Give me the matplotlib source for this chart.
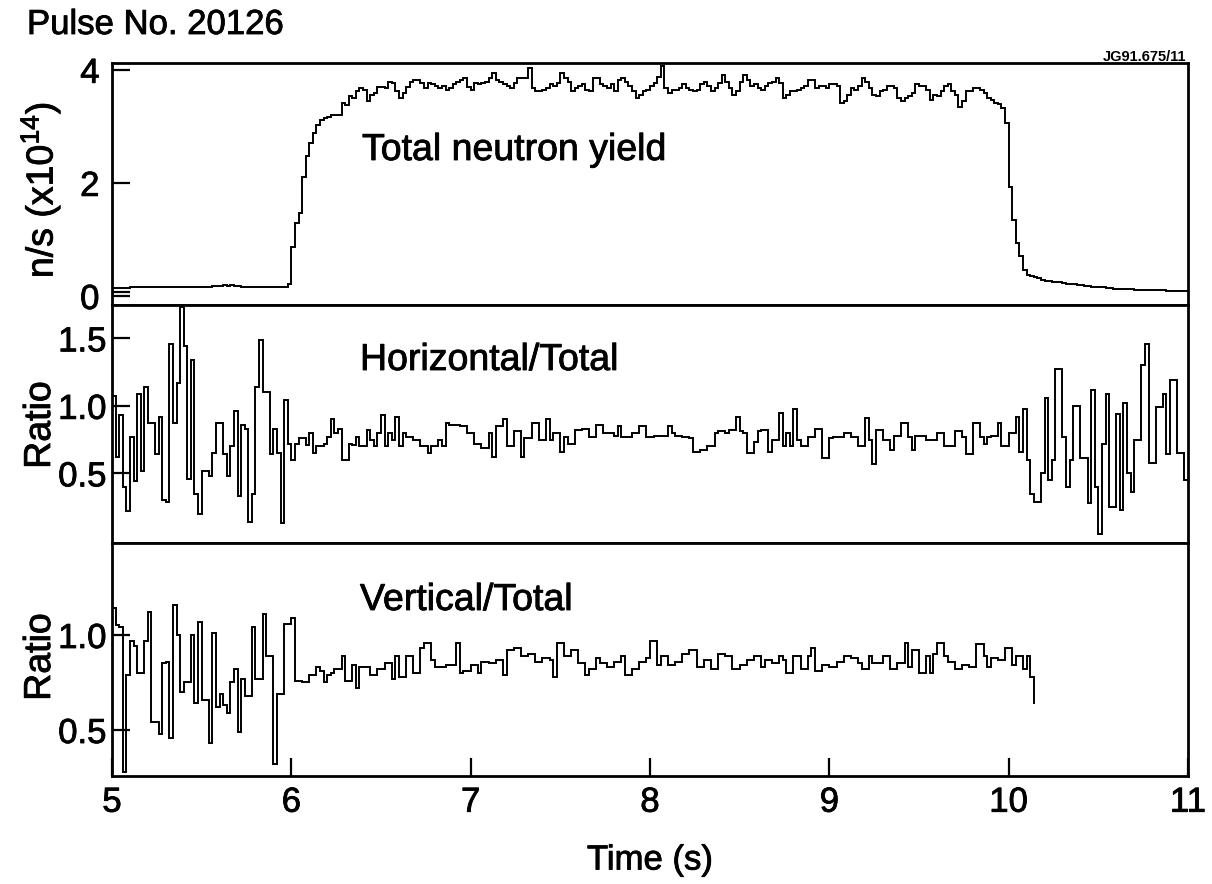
import numpy as np
import matplotlib
matplotlib.use("Agg")
import matplotlib.pyplot as plt
import matplotlib.patheffects as pe

plt.rcParams['font.family'] = ['Liberation Sans', 'DejaVu Sans']
plt.rcParams['mathtext.fontset'] = 'custom'
plt.rcParams['mathtext.rm'] = 'Liberation Sans'
plt.rcParams['mathtext.default'] = 'regular'

# ---------------- data (sampled every 0.02 s starting at t = 5.00 s) ----------------
t0 = 5.0
dt = 0.02

total_yield = [
    # 5.00 - 5.98
    0.14, 0.14, 0.14, 0.14, 0.14, 0.15, 0.15, 0.15, 0.15, 0.15,
    0.15, 0.15, 0.15, 0.15, 0.15, 0.15, 0.15, 0.15, 0.15, 0.15,
    0.15, 0.15, 0.15, 0.15, 0.16, 0.16, 0.16, 0.16, 0.17, 0.17,
    0.18, 0.19, 0.17, 0.19, 0.18, 0.17,
    0.16, 0.16, 0.16, 0.15, 0.15, 0.15, 0.15, 0.15, 0.15, 0.15, 0.15, 0.15, 0.15,
    0.22,
    # 6.00 - 6.14
    0.87, 1.29, 1.47, 2.10, 2.47, 2.71, 2.88, 3.03,
    # 6.16 - 8.48
    3.11, 3.15, 3.17, 3.20, 3.20, 3.20, 3.41, 3.38, 3.53, 3.50,
    3.62, 3.68, 3.65, 3.44, 3.56, 3.59, 3.70, 3.70, 3.68, 3.79,
    3.77, 3.62, 3.50, 3.59, 3.70, 3.79, 3.82, 3.82, 3.77, 3.68,
    3.77, 3.74, 3.71, 3.68, 3.71, 3.65, 3.68, 3.74, 3.79, 3.82,
    3.85, 3.70, 3.65, 3.77, 3.74, 3.77, 3.79, 3.85, 3.94, 3.82,
    3.79, 3.74, 3.71, 3.68, 3.77, 3.85, 3.85, 3.85, 4.03, 3.68,
    3.62, 3.62, 3.65, 3.68, 3.74, 3.71, 3.77, 3.94, 3.85, 3.79,
    3.62, 3.68, 3.71, 3.74, 3.65, 3.62, 3.85, 3.85, 3.74, 3.71,
    3.68, 3.74, 3.62, 3.82, 3.85, 3.79, 3.71, 3.62, 3.50, 3.56,
    3.62, 3.65, 3.71, 3.77, 3.88, 4.06, 3.68, 3.59, 3.65, 3.65,
    3.68, 3.74, 3.68, 3.65, 3.62, 3.65, 3.74, 3.79, 3.71, 3.62,
    3.68, 3.77, 3.91, 3.79, 3.68, 3.56, 3.62,
    # 8.50 - 9.98
    3.79, 3.91, 3.82, 3.71, 3.74, 3.68, 3.65, 3.71, 3.77, 3.79,
    3.85, 3.77, 3.50, 3.56, 3.62, 3.62, 3.65, 3.68, 3.71, 3.82,
    3.82, 3.68, 3.71, 3.71, 3.68, 3.74, 3.74, 3.71, 3.41, 3.44,
    3.56, 3.68, 3.65, 3.71, 3.85, 3.79, 3.68, 3.56, 3.53, 3.62,
    3.65, 3.71, 3.71, 3.68, 3.50, 3.44, 3.50, 3.53, 3.59, 3.74,
    3.71, 3.71, 3.65, 3.47, 3.56, 3.53, 3.62, 3.71, 3.74, 3.62,
    3.56, 3.35, 3.44, 3.62, 3.62, 3.68, 3.68, 3.65, 3.59, 3.50,
    3.47, 3.42, 3.39, 3.33, 3.06,
    # 10.00 - 10.98
    1.93, 1.35, 0.94, 0.70, 0.46, 0.37, 0.35, 0.33, 0.31, 0.29,
    0.27, 0.26, 0.25, 0.25, 0.24, 0.23, 0.22, 0.22, 0.21, 0.20,
    0.19, 0.18, 0.17, 0.16, 0.16, 0.15, 0.15, 0.14, 0.14, 0.13,
    0.13, 0.13, 0.12, 0.12, 0.12, 0.11, 0.11, 0.11, 0.11, 0.10,
    0.10, 0.10, 0.10, 0.10, 0.09, 0.09, 0.09, 0.09, 0.09, 0.09,
]

horizontal_ratio = [
    # 5.00 - 5.98
    1.07, 0.62, 0.93, 0.40, 0.22, 0.77, 0.44, 1.09, 0.52, 1.14,
    0.87, 0.87, 0.64, 0.92, 0.30, 0.29, 1.46, 0.87, 1.17, 1.73,
    1.44, 0.46, 1.34, 0.35, 0.20, 0.52, 0.52, 0.48, 0.65, 0.87,
    0.87, 0.64, 0.48, 0.70, 0.96, 0.33, 0.86, 0.83, 0.14, 0.35,
    1.14, 1.49, 1.10, 1.10, 0.64, 0.83, 0.65, 0.13, 1.04, 0.72,
    # 6.00 - 6.58
    0.60, 0.72, 0.76, 0.76, 0.71, 0.80, 0.65, 0.70, 0.70, 0.72,
    0.77, 0.90, 0.80, 0.83, 0.60, 0.60, 0.72, 0.71, 0.77, 0.70,
    0.70, 0.82, 0.75, 0.70, 0.80, 0.93, 0.70, 0.80, 0.75, 0.92,
    # 6.60 - 8.74
    0.70, 0.80, 0.77, 0.77, 0.75, 0.75, 0.70, 0.70, 0.65, 0.70,
    0.70, 0.75, 0.70, 0.87, 0.86, 0.86, 0.86, 0.85, 0.85, 0.80,
    0.80, 0.72, 0.72, 0.69, 0.69, 0.80, 0.62, 0.85, 0.85, 0.90,
    0.70, 0.70, 0.81, 0.81, 0.62, 0.76, 0.76, 0.87, 0.87, 0.75,
    0.75, 0.90, 0.75, 0.80, 0.80, 0.66, 0.77, 0.72, 0.72, 0.82,
    0.82, 0.83, 0.83, 0.77, 0.77, 0.86, 0.86, 0.80, 0.80, 0.80,
    0.78, 0.85, 0.77, 0.77, 0.77, 0.80, 0.80, 0.85, 0.85, 0.77,
    0.77, 0.78, 0.78, 0.78, 0.78, 0.85, 0.80, 0.78, 0.78, 0.77,
    0.77, 0.76, 0.66, 0.66, 0.67, 0.67, 0.70, 0.70, 0.80, 0.81,
    0.81, 0.80, 0.82, 0.82, 0.92, 0.81, 0.80, 0.65, 0.65, 0.73,
    0.81, 0.82, 0.82, 0.66, 0.75, 0.75, 0.95, 0.70,
    # 8.76 - 9.88
    0.80, 0.70, 0.98, 0.75, 0.70, 0.70, 0.77, 0.77, 0.83, 0.83,
    0.61, 0.61, 0.76, 0.77, 0.77, 0.77, 0.80, 0.80, 0.77, 0.77,
    0.70, 0.70, 0.91, 0.75, 0.57, 0.82, 0.82, 0.75, 0.75, 0.67,
    0.78, 0.78, 0.87, 0.87, 0.77, 0.67, 0.78, 0.78, 0.78, 0.75,
    0.75, 0.75, 0.80, 0.80, 0.70, 0.70, 0.70, 0.81, 0.81, 0.77,
    0.64, 0.64, 0.87, 0.87, 0.77, 0.72, 0.77,
    # 9.90 - 10.98
    0.78, 0.78, 0.87, 0.70, 0.70, 0.80, 0.80, 0.92, 0.66, 0.98,
    0.60, 0.35, 0.29, 0.29, 0.50, 1.06, 0.45, 0.60, 1.27, 1.27,
    0.77, 0.40, 0.60, 1.00, 1.00, 0.61, 0.61, 0.28, 1.12, 0.40,
    0.05, 0.72, 1.09, 0.25, 0.25, 0.94, 0.23, 1.02, 0.50, 0.36,
    0.75, 0.75, 1.30, 1.46, 0.58, 0.58, 0.99, 0.99, 1.09, 0.64,
    1.19, 1.19, 0.65, 0.65, 0.45,
]

vertical_ratio = [
    # 5.00 - 5.98
    1.14, 1.05, 1.04, 0.28, 0.79, 0.97, 0.94, 0.80, 0.80, 0.97,
    1.12, 0.54, 0.54, 0.48, 0.85, 0.86, 0.46, 1.16, 1.00, 0.70,
    0.75, 0.75, 1.00, 0.64, 1.07, 0.66, 0.66, 0.43, 1.01, 0.62,
    0.69, 0.63, 0.59, 0.75, 0.82, 0.49, 0.77, 0.68, 0.68, 1.04,
    0.77, 0.77, 1.11, 0.89, 0.89, 0.32, 0.69, 0.69, 1.06, 1.06,
    # 6.00 - 6.58
    1.09, 0.76, 0.76, 0.75, 0.75, 0.79, 0.79, 0.83, 0.81, 0.75,
    0.79, 0.80, 0.82, 0.82, 0.89, 0.76, 0.76, 0.84, 0.72, 0.83,
    0.83, 0.83, 0.79, 0.79, 0.82, 0.82, 0.85, 0.85, 0.77, 0.89,
    # 6.60 - 8.74
    0.78, 0.78, 0.89, 0.89, 0.80, 0.80, 0.93, 0.96, 0.96, 0.87,
    0.83, 0.83, 0.83, 0.84, 0.84, 0.84, 0.96, 0.80, 0.81, 0.81,
    0.84, 0.84, 0.80, 0.86, 0.86, 0.85, 0.85, 0.87, 0.87, 0.79,
    0.92, 0.92, 0.93, 0.93, 0.89, 0.89, 0.90, 0.90, 0.86, 0.86,
    0.88, 0.88, 0.87, 0.78, 0.96, 0.96, 0.89, 0.89, 0.92, 0.92,
    0.85, 0.85, 0.79, 0.82, 0.82, 0.88, 0.85, 0.85, 0.83, 0.83,
    0.86, 0.86, 0.89, 0.79, 0.79, 0.82, 0.82, 0.86, 0.86, 0.88,
    0.97, 0.97, 0.84, 0.89, 0.89, 0.84, 0.84, 0.86, 0.86, 0.90,
    0.90, 0.92, 0.92, 0.83, 0.83, 0.87, 0.87, 0.82, 0.82, 0.90,
    0.90, 0.89, 0.89, 0.82, 0.82, 0.84, 0.84, 0.87, 0.87, 0.89,
    0.89, 0.83, 0.87, 0.87, 0.85, 0.85, 0.89, 0.87,
    # 8.76 - 10.12
    0.80, 0.80, 0.89, 0.89, 0.82, 0.82, 0.89, 0.93, 0.81, 0.81,
    0.84, 0.84, 0.83, 0.83, 0.86, 0.86, 0.89, 0.89, 0.88, 0.88,
    0.85, 0.82, 0.82, 0.89, 0.85, 0.85, 0.85, 0.89, 0.89, 0.82,
    0.82, 0.85, 0.85, 0.96, 0.83, 0.92, 0.92, 0.80, 0.80, 0.89,
    0.80, 0.90, 0.96, 0.96, 0.89, 0.86, 0.86, 0.82, 0.82, 0.84,
    0.84, 0.83, 0.83, 0.95, 0.95, 0.89, 0.83, 0.88, 0.88, 0.87,
    0.87, 0.93, 0.93, 0.84, 0.89, 0.89, 0.82, 0.89, 0.78,
    # final sample at 10.14 (signal ends)
    0.64,
]

x_ticks = [5, 6, 7, 8, 9, 10, 11]
top_yticks = [0, 2, 4]
mid_yticks = [0.5, 1.0, 1.5]
bot_yticks = [0.5, 1.0]

title = "Pulse No. 20126"
code = "JG91.675/11"

# ---------------- figure ----------------
W, H = 1212, 884
fig = plt.figure(figsize=(W / 100, H / 100), dpi=100)

L, R = 112, 1188
heavy = [pe.withStroke(linewidth=0.6, foreground='black')]


def rect(top, bottom):
    return [L / W, 1 - bottom / H, (R - L) / W, (bottom - top) / H]


ax1 = fig.add_axes(rect(63, 305))
ax2 = fig.add_axes(rect(305, 543))
ax3 = fig.add_axes(rect(543, 776))


def step_line(ax, vals, pad_end=True):
    v = np.asarray(vals, dtype=float)
    t = t0 + dt * np.arange(len(v))
    if pad_end:
        t = np.append(t, 11.0)
        v = np.append(v, v[-1])
    ax.plot(t, v, drawstyle='steps-post', color='black', lw=1.4,
            solid_joinstyle='miter')


step_line(ax1, total_yield)
step_line(ax2, horizontal_ratio)
step_line(ax3, vertical_ratio, pad_end=False)

ax1.set_ylim(-0.16, 4.12)
ax2.set_ylim(-0.016, 1.747)
ax3.set_ylim(0.258, 1.484)

for ax in (ax1, ax2, ax3):
    ax.set_xlim(5, 11)
    for s in ax.spines.values():
        s.set_linewidth(2.0)
    ax.tick_params(axis='both', direction='in', length=13, width=1.6,
                   labelsize=25, colors='black')

for ax in (ax1, ax2):
    ax.set_xticks([])

ax3.set_xticks(x_ticks)
ax3.set_xticklabels([str(v) for v in x_ticks])
ax3.tick_params(axis='x', pad=7)

ax1.set_yticks(top_yticks)
ax1.set_yticklabels([str(v) for v in top_yticks])
ax1.set_yticks([0.07], minor=True)
ax1.tick_params(axis='y', which='minor', direction='in', length=13, width=1.6)
ax1.tick_params(axis='y', pad=9)

ax2.set_yticks(mid_yticks)
ax2.set_yticklabels([f"{v:.1f}" for v in mid_yticks])
ax2.tick_params(axis='y', pad=4)

ax3.set_yticks(bot_yticks)
ax3.set_yticklabels([f"{v:.1f}" for v in bot_yticks])
ax3.tick_params(axis='y', pad=4)

for ax in (ax1, ax2, ax3):
    for lab in ax.get_xticklabels() + ax.get_yticklabels():
        lab.set_path_effects(heavy)


def ftext(px, py, s, effects=True, **kw):
    if effects:
        kw['path_effects'] = heavy
    return fig.text(px / W, 1 - py / H, s, **kw)


ftext(362, 160, "Total neutron yield", fontsize=27, ha='left', va='baseline')
ftext(360, 370, "Horizontal/Total", fontsize=27, ha='left', va='baseline')
ftext(360, 610, "Vertical/Total", fontsize=27, ha='left', va='baseline')

ftext(27, 34, title, fontsize=25, ha='left', va='baseline')
ftext(1186, 61, code, effects=False, fontsize=10.5, fontweight='bold',
      ha='right', va='baseline')

ftext(40, 190, "n/s (x10$^{14}$)", fontsize=27, rotation=90, ha='center', va='center')
ftext(40, 425, "Ratio", fontsize=27, rotation=90, ha='center', va='center')
ftext(40, 657, "Ratio", fontsize=27, rotation=90, ha='center', va='center')

ftext(650, 860, "Time (s)", fontsize=25, ha='center', va='center')

fig.savefig("out.png", dpi=100, facecolor='white')
